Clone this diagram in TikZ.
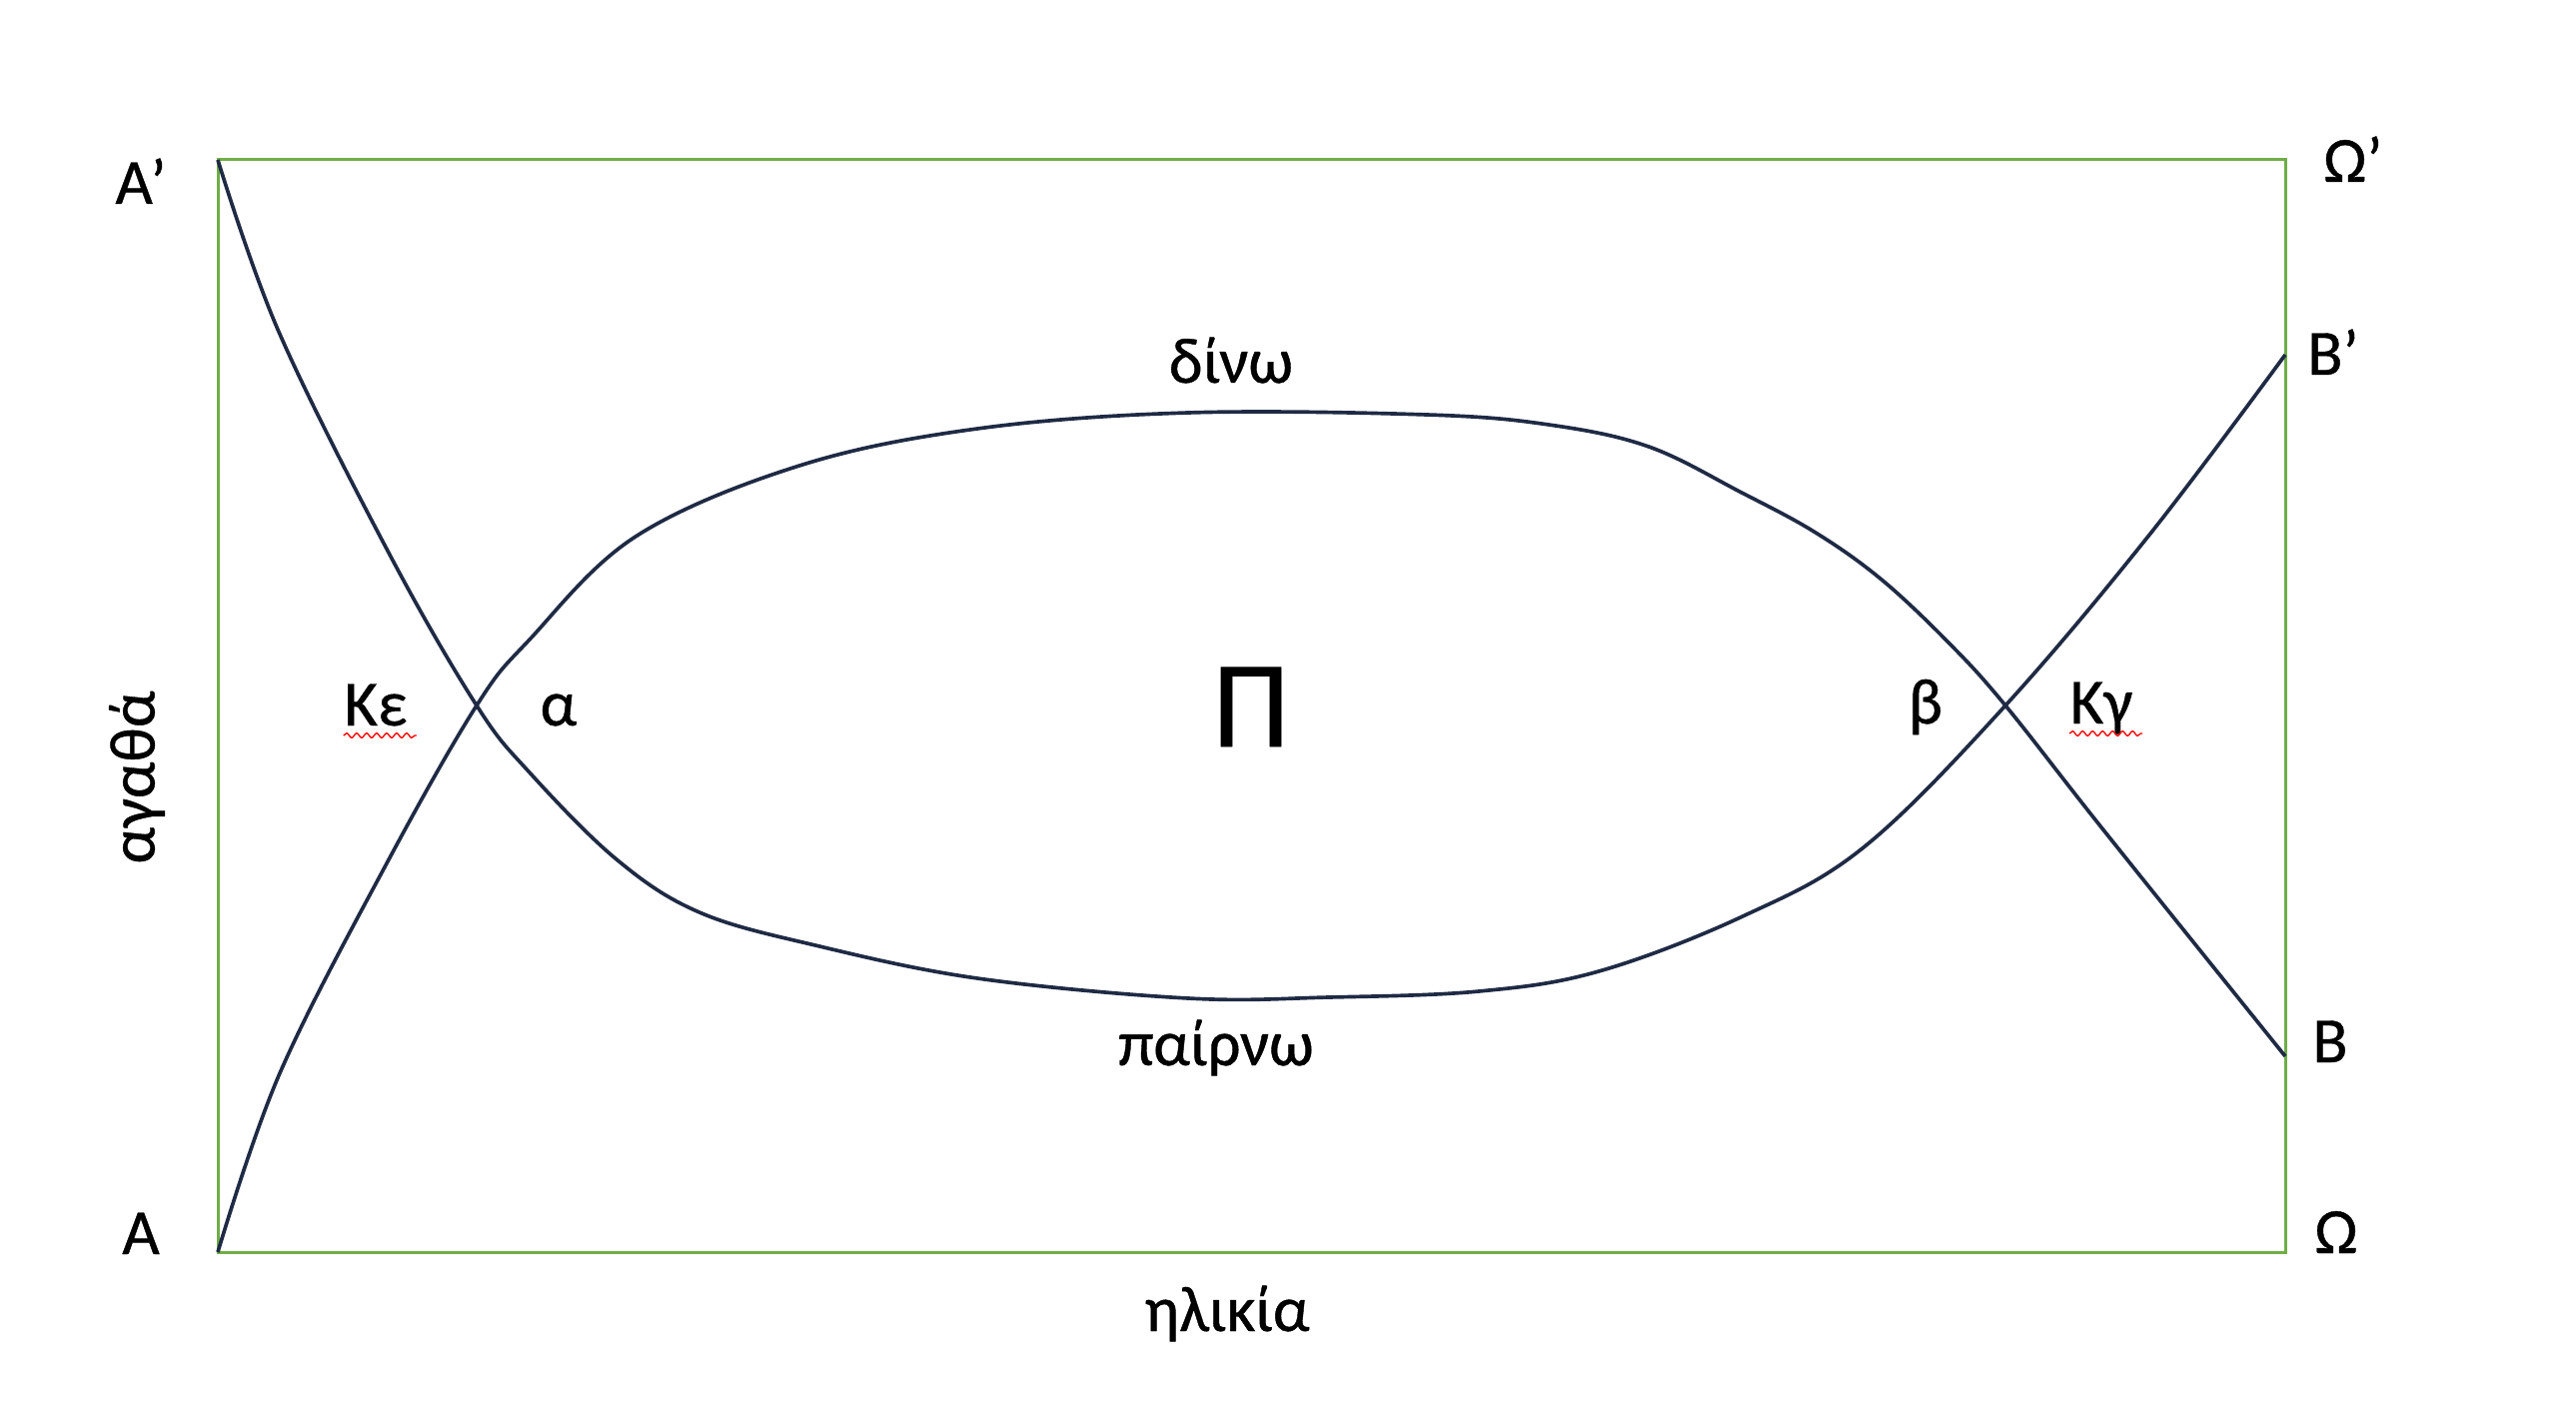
\documentclass[tikz,border=0pt]{standalone}
\usepackage{fontspec}
\setmainfont{Carlito}[FakeBold=0.6]
\usetikzlibrary{decorations.pathmorphing}
\definecolor{framegreen}{RGB}{112,173,71}
\definecolor{curvenavy}{RGB}{31,42,68}

\begin{document}
\begin{tikzpicture}[
    x=0.3pt, y=-0.3pt,
    font=\fontsize{19.4}{23}\selectfont,  % Calibri-like labels
    % Label styles:
    lbl/.style={inner sep=0pt, anchor=base},
    biglbl/.style={inner sep=0pt, anchor=base, font=\fontsize{37}{44}\selectfont},
    % Line styles:
    frameline/.style={draw=framegreen, line width=0.9pt},
    curve/.style={draw=curvenavy, line width=1.1pt},
    spellmark/.style={draw=red, line width=0.4pt, decorate,
                      decoration={snake, amplitude=0.7pt, segment length=3pt}},
]
\useasboundingbox (0,0) rectangle (2578,1404);

% --- FRAME ---
\coordinate (tl) at (218,160);
\coordinate (br) at (2287,1253);
\draw[frameline] (tl) rectangle (br);

% --- CORNER LABELS ---
\node[lbl] (Aprime)     at (141,204)   {A’};
\node[lbl] (A)          at (141,1255)  {A};
\node[lbl] (Omegaprime) at (2355,182)  {Ω’};
\node[lbl] (Bprime)     at (2335,375)  {B’};
\node[lbl] (B)          at (2332,1063) {B};
\node[lbl] (Omega)      at (2338,1254) {Ω};

% --- AXIS LABELS ---
\node[inner sep=0pt, rotate=90] (goods) at (137,778) {αγαθά};
\node[lbl] (age) at (1228,1332) {ηλικία};

% --- CURVE LABELS ---
\node[lbl] (give) at (1232,383)  {δίνω};
\node[lbl] (take) at (1217,1066) {παίρνω};
\node[biglbl] (profit) at (1252,747) {Π};
\node[lbl] (Ke)    at (376,726)  {Κε};
\node[lbl] (alpha) at (559,726)  {α};
\node[lbl] (beta)  at (1927,724) {β};
\node[lbl] (Kg)    at (2103,724) {Κγ};

% spell-check marks under Κε and Κγ
\draw[spellmark] ([yshift=-3pt]Ke.base west) -- ++(73,0);
\draw[spellmark] ([yshift=-3pt]Kg.base west) -- ++(73,0);

% --- CURVES ---
% A' down, along the bottom (taking), up to B'
\draw[curve] plot[smooth, tension=0.6] coordinates {
    (218,160) (279,332) (390,555) (477,706) (529,772) (617,860)
    (700,913) (816,946) (978,979) (1189,999) (1330,998) (1480,992)
    (1600,972) (1744,917) (1865,848) (2007,706) (2152,534) (2287,355)};

% A up, along the top (giving), down to B
\draw[curve] plot[smooth, tension=0.6] coordinates {
    (218,1253) (280,1074) (387,864) (477,706) (530,640) (636,537)
    (800,466) (978,429) (1189,413) (1428,415) (1550,425) (1650,447)
    (1743,493) (1817,533) (1883,580) (1950,643) (2007,706) (2107,833)
    (2287,1057)};

\end{tikzpicture}
\end{document}
